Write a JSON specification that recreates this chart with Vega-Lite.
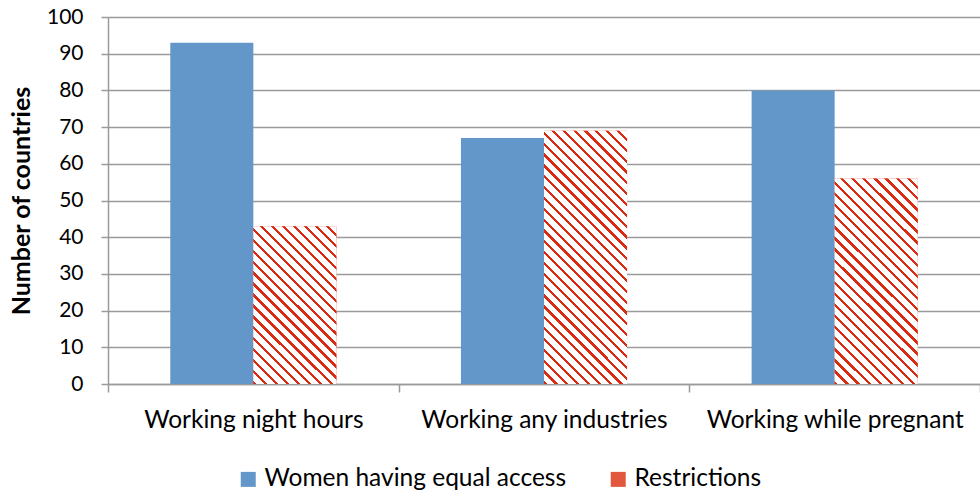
{
  "$schema": "https://vega.github.io/schema/vega-lite/v6.json",
  "width": 872,
  "height": 367,
  "autosize": "none",
  "padding": {"left": 108, "top": 17, "right": 0, "bottom": 111},
  "background": "white",
  "config": {
    "font": "Lato",
    "view": {"stroke": null},
    "axis": {
      "domainColor": "#9a9a9a", "tickColor": "#9a9a9a", "gridColor": "#9a9a9a",
      "domainWidth": 1.5, "tickWidth": 1.5, "gridWidth": 1.5,
      "labelColor": "#000", "titleColor": "#000",
      "labelFont": "Lato", "titleFont": "Lato", "labelLimit": 400
    }
  },
  "data": {
    "values": [
      {"cat": "Working night hours", "series": "Women having equal access", "value": 93},
      {"cat": "Working night hours", "series": "Restrictions", "value": 43},
      {"cat": "Working any industries", "series": "Women having equal access", "value": 67},
      {"cat": "Working any industries", "series": "Restrictions", "value": 69},
      {"cat": "Working while pregnant", "series": "Women having equal access", "value": 80},
      {"cat": "Working while pregnant", "series": "Restrictions", "value": 56}
    ]
  },
  "encoding": {
    "x": {
      "field": "cat", "type": "nominal",
      "sort": ["Working night hours", "Working any industries", "Working while pregnant"],
      "scale": {"paddingInner": 0, "paddingOuter": 0},
      "axis": {"title": null, "labelAngle": 0, "tickBand": "extent", "grid": false,
               "labelFontSize": 24.5, "labelPadding": 16, "tickSize": 8}
    },
    "xOffset": {
      "field": "series", "type": "nominal",
      "sort": ["Women having equal access", "Restrictions"],
      "scale": {"paddingInner": 0, "paddingOuter": 0.75}
    },
    "y": {
      "field": "value", "type": "quantitative",
      "scale": {"domain": [0, 100], "nice": false},
      "axis": {"title": "Number of countries", "values": [0, 10, 20, 30, 40, 50, 60, 70, 80, 90, 100],
               "grid": true, "labelFontSize": 21, "tickSize": 7, "labelPadding": 18,
               "titleFontSize": 25, "titleFontWeight": "bold", "titlePadding": 12}
    }
  },
  "layer": [
    {
      "mark": {"type": "bar"},
      "encoding": {
        "fill": {
          "field": "series", "type": "nominal",
          "sort": ["Women having equal access", "Restrictions"],
          "scale": {"domain": ["Women having equal access", "Restrictions"], "range": ["#6497c9", "#e2583f"]},
          "legend": {
            "title": null, "orient": "none", "legendX": 128, "legendY": 450, "direction": "horizontal",
            "symbolType": "square", "symbolSize": 225, "symbolStrokeWidth": 0,
            "labelFontSize": 24.5, "labelFont": "Lato", "labelColor": "#000", "labelOffset": 4, "labelLimit": 400, "columnPadding": 39, "padding": 0
          }
        }
      }
    },
    {
      "transform": [{"filter": "datum.series === 'Restrictions'"}],
      "mark": {"type": "bar"},
      "encoding": {
        "fill": {
          "condition": [
            {"test": "datum.cat === 'Working night hours'", "value": {"gradient": "linear", "x1": 0, "y1": 1, "x2": 0.628, "y2": -0.195, "stops": [
              {"offset": 0, "color": "#d92b12"}, {"offset": 0.0136, "color": "#d92b12"}, {"offset": 0.0136, "color": "#fff"}, {"offset": 0.0455, "color": "#fff"},
              {"offset": 0.0455, "color": "#d92b12"}, {"offset": 0.0591, "color": "#d92b12"}, {"offset": 0.0591, "color": "#fff"}, {"offset": 0.0909, "color": "#fff"},
              {"offset": 0.0909, "color": "#d92b12"}, {"offset": 0.1045, "color": "#d92b12"}, {"offset": 0.1045, "color": "#fff"}, {"offset": 0.1364, "color": "#fff"},
              {"offset": 0.1364, "color": "#d92b12"}, {"offset": 0.15, "color": "#d92b12"}, {"offset": 0.15, "color": "#fff"}, {"offset": 0.1818, "color": "#fff"},
              {"offset": 0.1818, "color": "#d92b12"}, {"offset": 0.1955, "color": "#d92b12"}, {"offset": 0.1955, "color": "#fff"}, {"offset": 0.2273, "color": "#fff"},
              {"offset": 0.2273, "color": "#d92b12"}, {"offset": 0.2409, "color": "#d92b12"}, {"offset": 0.2409, "color": "#fff"}, {"offset": 0.2727, "color": "#fff"},
              {"offset": 0.2727, "color": "#d92b12"}, {"offset": 0.2864, "color": "#d92b12"}, {"offset": 0.2864, "color": "#fff"}, {"offset": 0.3182, "color": "#fff"},
              {"offset": 0.3182, "color": "#d92b12"}, {"offset": 0.3318, "color": "#d92b12"}, {"offset": 0.3318, "color": "#fff"}, {"offset": 0.3636, "color": "#fff"},
              {"offset": 0.3636, "color": "#d92b12"}, {"offset": 0.3773, "color": "#d92b12"}, {"offset": 0.3773, "color": "#fff"}, {"offset": 0.4091, "color": "#fff"},
              {"offset": 0.4091, "color": "#d92b12"}, {"offset": 0.4227, "color": "#d92b12"}, {"offset": 0.4227, "color": "#fff"}, {"offset": 0.4545, "color": "#fff"},
              {"offset": 0.4545, "color": "#d92b12"}, {"offset": 0.4682, "color": "#d92b12"}, {"offset": 0.4682, "color": "#fff"}, {"offset": 0.5, "color": "#fff"},
              {"offset": 0.5, "color": "#d92b12"}, {"offset": 0.5136, "color": "#d92b12"}, {"offset": 0.5136, "color": "#fff"}, {"offset": 0.5455, "color": "#fff"},
              {"offset": 0.5455, "color": "#d92b12"}, {"offset": 0.5591, "color": "#d92b12"}, {"offset": 0.5591, "color": "#fff"}, {"offset": 0.5909, "color": "#fff"},
              {"offset": 0.5909, "color": "#d92b12"}, {"offset": 0.6045, "color": "#d92b12"}, {"offset": 0.6045, "color": "#fff"}, {"offset": 0.6364, "color": "#fff"},
              {"offset": 0.6364, "color": "#d92b12"}, {"offset": 0.65, "color": "#d92b12"}, {"offset": 0.65, "color": "#fff"}, {"offset": 0.6818, "color": "#fff"},
              {"offset": 0.6818, "color": "#d92b12"}, {"offset": 0.6955, "color": "#d92b12"}, {"offset": 0.6955, "color": "#fff"}, {"offset": 0.7273, "color": "#fff"},
              {"offset": 0.7273, "color": "#d92b12"}, {"offset": 0.7409, "color": "#d92b12"}, {"offset": 0.7409, "color": "#fff"}, {"offset": 0.7727, "color": "#fff"},
              {"offset": 0.7727, "color": "#d92b12"}, {"offset": 0.7864, "color": "#d92b12"}, {"offset": 0.7864, "color": "#fff"}, {"offset": 0.8182, "color": "#fff"},
              {"offset": 0.8182, "color": "#d92b12"}, {"offset": 0.8318, "color": "#d92b12"}, {"offset": 0.8318, "color": "#fff"}, {"offset": 0.8636, "color": "#fff"},
              {"offset": 0.8636, "color": "#d92b12"}, {"offset": 0.8773, "color": "#d92b12"}, {"offset": 0.8773, "color": "#fff"}, {"offset": 0.9091, "color": "#fff"},
              {"offset": 0.9091, "color": "#d92b12"}, {"offset": 0.9227, "color": "#d92b12"}, {"offset": 0.9227, "color": "#fff"}, {"offset": 0.9545, "color": "#fff"},
              {"offset": 0.9545, "color": "#d92b12"}, {"offset": 0.9682, "color": "#d92b12"}, {"offset": 0.9682, "color": "#fff"}, {"offset": 1, "color": "#fff"}
            ]}},
            {"test": "datum.cat === 'Working any industries'", "value": {"gradient": "linear", "x1": 0, "y1": 1, "x2": 0.3934, "y2": -0.199, "stops": [
              {"offset": 0, "color": "#d92b12"}, {"offset": 0.0097, "color": "#d92b12"}, {"offset": 0.0097, "color": "#fff"}, {"offset": 0.0323, "color": "#fff"},
              {"offset": 0.0323, "color": "#d92b12"}, {"offset": 0.0419, "color": "#d92b12"}, {"offset": 0.0419, "color": "#fff"}, {"offset": 0.0645, "color": "#fff"},
              {"offset": 0.0645, "color": "#d92b12"}, {"offset": 0.0742, "color": "#d92b12"}, {"offset": 0.0742, "color": "#fff"}, {"offset": 0.0968, "color": "#fff"},
              {"offset": 0.0968, "color": "#d92b12"}, {"offset": 0.1065, "color": "#d92b12"}, {"offset": 0.1065, "color": "#fff"}, {"offset": 0.129, "color": "#fff"},
              {"offset": 0.129, "color": "#d92b12"}, {"offset": 0.1387, "color": "#d92b12"}, {"offset": 0.1387, "color": "#fff"}, {"offset": 0.1613, "color": "#fff"},
              {"offset": 0.1613, "color": "#d92b12"}, {"offset": 0.171, "color": "#d92b12"}, {"offset": 0.171, "color": "#fff"}, {"offset": 0.1935, "color": "#fff"},
              {"offset": 0.1935, "color": "#d92b12"}, {"offset": 0.2032, "color": "#d92b12"}, {"offset": 0.2032, "color": "#fff"}, {"offset": 0.2258, "color": "#fff"},
              {"offset": 0.2258, "color": "#d92b12"}, {"offset": 0.2355, "color": "#d92b12"}, {"offset": 0.2355, "color": "#fff"}, {"offset": 0.2581, "color": "#fff"},
              {"offset": 0.2581, "color": "#d92b12"}, {"offset": 0.2677, "color": "#d92b12"}, {"offset": 0.2677, "color": "#fff"}, {"offset": 0.2903, "color": "#fff"},
              {"offset": 0.2903, "color": "#d92b12"}, {"offset": 0.3, "color": "#d92b12"}, {"offset": 0.3, "color": "#fff"}, {"offset": 0.3226, "color": "#fff"},
              {"offset": 0.3226, "color": "#d92b12"}, {"offset": 0.3323, "color": "#d92b12"}, {"offset": 0.3323, "color": "#fff"}, {"offset": 0.3548, "color": "#fff"},
              {"offset": 0.3548, "color": "#d92b12"}, {"offset": 0.3645, "color": "#d92b12"}, {"offset": 0.3645, "color": "#fff"}, {"offset": 0.3871, "color": "#fff"},
              {"offset": 0.3871, "color": "#d92b12"}, {"offset": 0.3968, "color": "#d92b12"}, {"offset": 0.3968, "color": "#fff"}, {"offset": 0.4194, "color": "#fff"},
              {"offset": 0.4194, "color": "#d92b12"}, {"offset": 0.429, "color": "#d92b12"}, {"offset": 0.429, "color": "#fff"}, {"offset": 0.4516, "color": "#fff"},
              {"offset": 0.4516, "color": "#d92b12"}, {"offset": 0.4613, "color": "#d92b12"}, {"offset": 0.4613, "color": "#fff"}, {"offset": 0.4839, "color": "#fff"},
              {"offset": 0.4839, "color": "#d92b12"}, {"offset": 0.4935, "color": "#d92b12"}, {"offset": 0.4935, "color": "#fff"}, {"offset": 0.5161, "color": "#fff"},
              {"offset": 0.5161, "color": "#d92b12"}, {"offset": 0.5258, "color": "#d92b12"}, {"offset": 0.5258, "color": "#fff"}, {"offset": 0.5484, "color": "#fff"},
              {"offset": 0.5484, "color": "#d92b12"}, {"offset": 0.5581, "color": "#d92b12"}, {"offset": 0.5581, "color": "#fff"}, {"offset": 0.5806, "color": "#fff"},
              {"offset": 0.5806, "color": "#d92b12"}, {"offset": 0.5903, "color": "#d92b12"}, {"offset": 0.5903, "color": "#fff"}, {"offset": 0.6129, "color": "#fff"},
              {"offset": 0.6129, "color": "#d92b12"}, {"offset": 0.6226, "color": "#d92b12"}, {"offset": 0.6226, "color": "#fff"}, {"offset": 0.6452, "color": "#fff"},
              {"offset": 0.6452, "color": "#d92b12"}, {"offset": 0.6548, "color": "#d92b12"}, {"offset": 0.6548, "color": "#fff"}, {"offset": 0.6774, "color": "#fff"},
              {"offset": 0.6774, "color": "#d92b12"}, {"offset": 0.6871, "color": "#d92b12"}, {"offset": 0.6871, "color": "#fff"}, {"offset": 0.7097, "color": "#fff"},
              {"offset": 0.7097, "color": "#d92b12"}, {"offset": 0.7194, "color": "#d92b12"}, {"offset": 0.7194, "color": "#fff"}, {"offset": 0.7419, "color": "#fff"},
              {"offset": 0.7419, "color": "#d92b12"}, {"offset": 0.7516, "color": "#d92b12"}, {"offset": 0.7516, "color": "#fff"}, {"offset": 0.7742, "color": "#fff"},
              {"offset": 0.7742, "color": "#d92b12"}, {"offset": 0.7839, "color": "#d92b12"}, {"offset": 0.7839, "color": "#fff"}, {"offset": 0.8065, "color": "#fff"},
              {"offset": 0.8065, "color": "#d92b12"}, {"offset": 0.8161, "color": "#d92b12"}, {"offset": 0.8161, "color": "#fff"}, {"offset": 0.8387, "color": "#fff"},
              {"offset": 0.8387, "color": "#d92b12"}, {"offset": 0.8484, "color": "#d92b12"}, {"offset": 0.8484, "color": "#fff"}, {"offset": 0.871, "color": "#fff"},
              {"offset": 0.871, "color": "#d92b12"}, {"offset": 0.8806, "color": "#d92b12"}, {"offset": 0.8806, "color": "#fff"}, {"offset": 0.9032, "color": "#fff"},
              {"offset": 0.9032, "color": "#d92b12"}, {"offset": 0.9129, "color": "#d92b12"}, {"offset": 0.9129, "color": "#fff"}, {"offset": 0.9355, "color": "#fff"},
              {"offset": 0.9355, "color": "#d92b12"}, {"offset": 0.9452, "color": "#d92b12"}, {"offset": 0.9452, "color": "#fff"}, {"offset": 0.9677, "color": "#fff"},
              {"offset": 0.9677, "color": "#d92b12"}, {"offset": 0.9774, "color": "#d92b12"}, {"offset": 0.9774, "color": "#fff"}, {"offset": 1, "color": "#fff"}
            ]}}
          ],
          "value": {"gradient": "linear", "x1": 0, "y1": 1, "x2": 0.4863, "y2": -0.207, "stops": [
            {"offset": 0, "color": "#d92b12"}, {"offset": 0.0115, "color": "#d92b12"}, {"offset": 0.0115, "color": "#fff"}, {"offset": 0.0385, "color": "#fff"},
            {"offset": 0.0385, "color": "#d92b12"}, {"offset": 0.05, "color": "#d92b12"}, {"offset": 0.05, "color": "#fff"}, {"offset": 0.0769, "color": "#fff"},
            {"offset": 0.0769, "color": "#d92b12"}, {"offset": 0.0885, "color": "#d92b12"}, {"offset": 0.0885, "color": "#fff"}, {"offset": 0.1154, "color": "#fff"},
            {"offset": 0.1154, "color": "#d92b12"}, {"offset": 0.1269, "color": "#d92b12"}, {"offset": 0.1269, "color": "#fff"}, {"offset": 0.1538, "color": "#fff"},
            {"offset": 0.1538, "color": "#d92b12"}, {"offset": 0.1654, "color": "#d92b12"}, {"offset": 0.1654, "color": "#fff"}, {"offset": 0.1923, "color": "#fff"},
            {"offset": 0.1923, "color": "#d92b12"}, {"offset": 0.2038, "color": "#d92b12"}, {"offset": 0.2038, "color": "#fff"}, {"offset": 0.2308, "color": "#fff"},
            {"offset": 0.2308, "color": "#d92b12"}, {"offset": 0.2423, "color": "#d92b12"}, {"offset": 0.2423, "color": "#fff"}, {"offset": 0.2692, "color": "#fff"},
            {"offset": 0.2692, "color": "#d92b12"}, {"offset": 0.2808, "color": "#d92b12"}, {"offset": 0.2808, "color": "#fff"}, {"offset": 0.3077, "color": "#fff"},
            {"offset": 0.3077, "color": "#d92b12"}, {"offset": 0.3192, "color": "#d92b12"}, {"offset": 0.3192, "color": "#fff"}, {"offset": 0.3462, "color": "#fff"},
            {"offset": 0.3462, "color": "#d92b12"}, {"offset": 0.3577, "color": "#d92b12"}, {"offset": 0.3577, "color": "#fff"}, {"offset": 0.3846, "color": "#fff"},
            {"offset": 0.3846, "color": "#d92b12"}, {"offset": 0.3962, "color": "#d92b12"}, {"offset": 0.3962, "color": "#fff"}, {"offset": 0.4231, "color": "#fff"},
            {"offset": 0.4231, "color": "#d92b12"}, {"offset": 0.4346, "color": "#d92b12"}, {"offset": 0.4346, "color": "#fff"}, {"offset": 0.4615, "color": "#fff"},
            {"offset": 0.4615, "color": "#d92b12"}, {"offset": 0.4731, "color": "#d92b12"}, {"offset": 0.4731, "color": "#fff"}, {"offset": 0.5, "color": "#fff"},
            {"offset": 0.5, "color": "#d92b12"}, {"offset": 0.5115, "color": "#d92b12"}, {"offset": 0.5115, "color": "#fff"}, {"offset": 0.5385, "color": "#fff"},
            {"offset": 0.5385, "color": "#d92b12"}, {"offset": 0.55, "color": "#d92b12"}, {"offset": 0.55, "color": "#fff"}, {"offset": 0.5769, "color": "#fff"},
            {"offset": 0.5769, "color": "#d92b12"}, {"offset": 0.5885, "color": "#d92b12"}, {"offset": 0.5885, "color": "#fff"}, {"offset": 0.6154, "color": "#fff"},
            {"offset": 0.6154, "color": "#d92b12"}, {"offset": 0.6269, "color": "#d92b12"}, {"offset": 0.6269, "color": "#fff"}, {"offset": 0.6538, "color": "#fff"},
            {"offset": 0.6538, "color": "#d92b12"}, {"offset": 0.6654, "color": "#d92b12"}, {"offset": 0.6654, "color": "#fff"}, {"offset": 0.6923, "color": "#fff"},
            {"offset": 0.6923, "color": "#d92b12"}, {"offset": 0.7038, "color": "#d92b12"}, {"offset": 0.7038, "color": "#fff"}, {"offset": 0.7308, "color": "#fff"},
            {"offset": 0.7308, "color": "#d92b12"}, {"offset": 0.7423, "color": "#d92b12"}, {"offset": 0.7423, "color": "#fff"}, {"offset": 0.7692, "color": "#fff"},
            {"offset": 0.7692, "color": "#d92b12"}, {"offset": 0.7808, "color": "#d92b12"}, {"offset": 0.7808, "color": "#fff"}, {"offset": 0.8077, "color": "#fff"},
            {"offset": 0.8077, "color": "#d92b12"}, {"offset": 0.8192, "color": "#d92b12"}, {"offset": 0.8192, "color": "#fff"}, {"offset": 0.8462, "color": "#fff"},
            {"offset": 0.8462, "color": "#d92b12"}, {"offset": 0.8577, "color": "#d92b12"}, {"offset": 0.8577, "color": "#fff"}, {"offset": 0.8846, "color": "#fff"},
            {"offset": 0.8846, "color": "#d92b12"}, {"offset": 0.8962, "color": "#d92b12"}, {"offset": 0.8962, "color": "#fff"}, {"offset": 0.9231, "color": "#fff"},
            {"offset": 0.9231, "color": "#d92b12"}, {"offset": 0.9346, "color": "#d92b12"}, {"offset": 0.9346, "color": "#fff"}, {"offset": 0.9615, "color": "#fff"},
            {"offset": 0.9615, "color": "#d92b12"}, {"offset": 0.9731, "color": "#d92b12"}, {"offset": 0.9731, "color": "#fff"}, {"offset": 1, "color": "#fff"}
          ]}
        }
      }
    }
  ]
}
